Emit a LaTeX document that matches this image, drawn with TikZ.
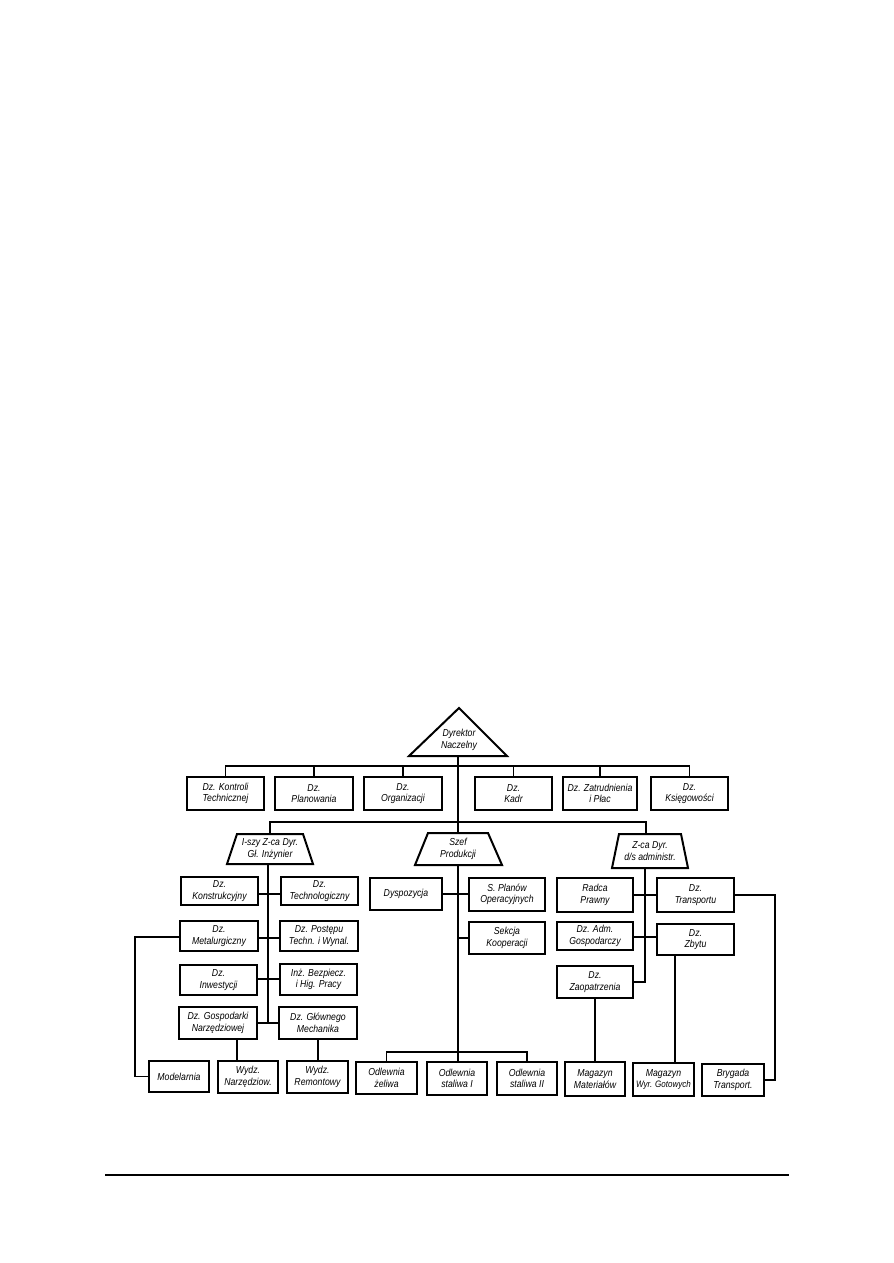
\documentclass[tikz,border=0pt]{standalone}
\usepackage{fontspec}
\setmainfont{Liberation Sans}[FakeStretch=0.86]
\begin{document}
\begin{tikzpicture}[x=0.75pt,y=-0.75pt,
  box/.style={draw,line width=1.5pt,inner sep=0pt,align=center,
    font=\itshape\fontsize{7.6}{8.6}\selectfont},
  shapeline/.style={draw,line width=1.5pt,line join=miter},
  lbl/.style={inner sep=0pt,align=center,font=\itshape\fontsize{7.6}{8.6}\selectfont},
  conn/.style={line width=1pt}]
\newcommand\mybox[6]{%
  \pgfmathsetmacro\bw{(#4-#2)*0.75}%
  \pgfmathsetmacro\bh{(#5-#3)*0.75}%
  \pgfmathsetmacro\cx{(#2+#4)/2}%
  \pgfmathsetmacro\cy{(#3+#5)/2}%
  \node[box,minimum width=\bw pt,minimum height=\bh pt] (#1) at (\cx,\cy) {#6};}
\useasboundingbox (0,0) rectangle (893,1263);
% Director triangle
\draw[shapeline] (459,708) -- (507,756) -- (409,756) -- cycle;
\node[lbl] (dn) at (459,740) {Dyrektor\\Naczelny};
\coordinate (dnb) at (458,756);
% first row
\mybox{b1}{187}{777}{264}{810}{Dz. Kontroli\\Technicznej}
\mybox{b2}{275}{777}{353}{810}{Dz.\\Planowania}
\mybox{b3}{364}{777}{442}{810}{Dz.\\Organizacji}
\mybox{b4}{475}{777}{552}{810}{Dz.\\Kadr}
\mybox{b5}{563}{777}{637}{810}{Dz. Zatrudnienia\\i Płac}
\mybox{b6}{651}{777}{728}{810}{Dz.\\Księgowości}
% trapezoids
\draw[shapeline] (237,834) -- (303,834) -- (313,864) -- (227,864) -- cycle;
\node[lbl] (t1) at (270,849) {I-szy Z-ca Dyr.\\Gł. Inżynier};
\coordinate (t1t) at (270,834); \coordinate (t1b) at (268,864);
\draw[shapeline] (428,833) -- (488,833) -- (502,865) -- (415,865) -- cycle;
\node[lbl] (t2) at (458,849) {Szef\\Produkcji};
\coordinate (t2t) at (458,833); \coordinate (t2b) at (458,865);
\draw[shapeline] (619,834) -- (681,834) -- (688,868) -- (612,868) -- cycle;
\node[lbl] (t3) at (650,851) {Z-ca Dyr.\\d/s administr.};
\coordinate (t3t) at (646,834); \coordinate (t3b) at (645,868);
% left group
\mybox{k1}{181}{877}{258}{905}{Dz.\\Konstrukcyjny}
\mybox{k2}{281}{877}{358}{905}{Dz.\\Technologiczny}
\mybox{k3}{180}{921}{258}{951}{Dz.\\Metalurgiczny}
\mybox{k4}{280}{921}{358}{951}{Dz. Postępu\\Techn. i Wynal.}
\mybox{k5}{180}{965}{257}{995}{Dz.\\Inwestycji}
\mybox{k6}{280}{964}{357}{995}{Inż. Bezpiecz.\\i Hig. Pracy}
\mybox{k7}{179}{1007}{257}{1039}{Dz. Gospodarki\\Narzędziowej}
\mybox{k8}{279}{1007}{357}{1039}{Dz. Głównego\\Mechanika}
\mybox{k9}{149}{1061}{209}{1092}{Modelarnia}
\mybox{k10}{218}{1061}{278}{1093}{Wydz.\\Narzędziow.}
\mybox{k11}{287}{1061}{348}{1093}{Wydz.\\Remontowy}
% middle group
\mybox{p1}{370}{878}{442}{910}{Dyspozycja}
\mybox{p2}{469}{878}{545}{911}{S. Planów\\Operacyjnych}
\mybox{p3}{469}{922}{545}{954}{Sekcja\\Kooperacji}
\mybox{o1}{356}{1062}{417}{1094}{Odlewnia\\żeliwa}
\mybox{o2}{427}{1062}{487}{1095}{Odlewnia\\staliwa I}
\mybox{o3}{497}{1062}{557}{1095}{Odlewnia\\staliwa II}
% right group
\mybox{r1}{557}{878}{633}{912}{Radca\\Prawny}
\mybox{r2}{657}{878}{734}{912}{Dz.\\Transportu}
\mybox{r3}{557}{922}{633}{950}{Dz. Adm.\\Gospodarczy}
\mybox{r4}{657}{924}{734}{955}{Dz.\\Zbytu}
\mybox{r5}{557}{966}{633}{998}{Dz.\\Zaopatrzenia}
\mybox{m1}{565}{1062}{625}{1096}{Magazyn\\Materiałów}
\mybox{m2}{633}{1063}{694}{1096}{Magazyn\\{\fontsize{7}{8.6}\selectfont Wyr. Gotowych}}
\mybox{m3}{702}{1064}{764}{1096}{Brygada\\Transport.}
% helper coordinates for line positions
\coordinate (xn) at (237,0); \coordinate (xr) at (318,0);
\coordinate (xz) at (675,0); \coordinate (xm) at (595,0);
\coordinate (xt) at (458,0);
\coordinate (y1) at (0,894); \coordinate (y2) at (0,938);
\coordinate (y3) at (0,979); \coordinate (y4) at (0,1023);
\coordinate (y5) at (0,895); \coordinate (y6) at (0,937);
% connectors
\draw[conn] (dnb) -- (t2t);
\draw[conn] (t2b) -- (o2.north -| xt);
\draw[conn] (b1.north) |- (458,766) -| (b6.north);
\draw[conn] (b2.north) -- ++(0,-11);
\draw[conn] (b3.north) -- ++(0,-11);
\draw[conn] (b4.north) -- ++(0,-11);
\draw[conn] (b5.north) -- ++(0,-11);
\draw[conn] (t1t) |- (458,822) -| (t3t);
% left
\draw[conn] (t1b) -- (268,1023);
\draw[conn] (k1.east |- y1) -- (k2.west |- y1);
\draw[conn] (k3.east |- y2) -- (k4.west |- y2);
\draw[conn] (k5.east |- y3) -- (k6.west |- y3);
\draw[conn] (k7.east |- y4) -- (k8.west |- y4);
\draw[conn] (k3.west |- 0,937) -- (135,937) |- (k9.west);
\draw[conn] (k7.south -| xn) -- (k10.north -| xn);
\draw[conn] (k8.south -| xr) -- (k11.north -| xr);
% middle
\draw[conn] (p1.east |- y1) -- (p2.west |- y1);
\draw[conn] (458,938) -- (p3.west |- y2);
\draw[conn] (o1.north) |- (458,1052) -| (o3.north);
% right
\draw[conn] (t3b) -- (645,982) -- (r5.east |- 0,982);
\draw[conn] (r1.east |- y5) -- (r2.west |- y5);
\draw[conn] (r3.east |- y6) -- (r4.west |- y6);
\draw[conn] (r2.east |- y5) -- (775,895) |- (m3.east);
\draw[conn] (r4.south -| xz) -- (m2.north -| xz);
\draw[conn] (r5.south -| xm) -- (m1.north -| xm);
% page rule
\draw[line width=1.1pt] (105,1175) -- (789,1175);
\end{tikzpicture}
\end{document}
